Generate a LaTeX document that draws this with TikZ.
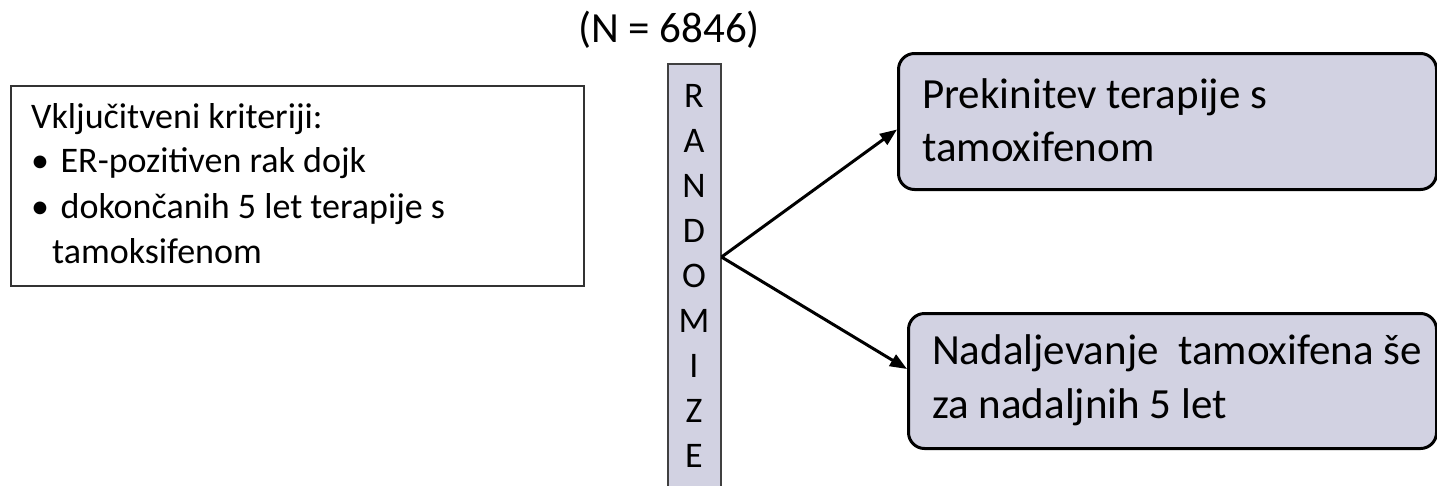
\documentclass[tikz,border=0pt]{standalone}
\usepackage{fontspec}
\setmainfont{Carlito}
\usetikzlibrary{arrows.meta}
\definecolor{boxfill}{RGB}{210,210,226}
\begin{document}
\begin{tikzpicture}[x=1pt,y=-1pt,
  critbox/.style={draw=black!80, line width=1.5pt, minimum width=573pt, minimum height=200pt, anchor=north west, inner sep=0pt},
  critline/.style={anchor=base west, inner sep=0pt, font=\fontsize{36}{42}\selectfont},
  randcol/.style={draw=black!75, fill=boxfill, line width=1.5pt, anchor=north west, minimum width=53pt, minimum height=440pt, inner sep=0pt},
  letter/.style={anchor=base, inner sep=0pt, font=\fontsize{36}{42}\selectfont},
  arm/.style={draw=black, fill=boxfill, line width=3pt, rounded corners=16pt, anchor=north west, inner sep=0pt},
  armline/.style={anchor=base west, inner sep=0pt, font=\fontsize{43}{50}\selectfont},
  splitarrow/.style={line width=3pt, -{Triangle[length=17pt,width=13pt]}}
]
\useasboundingbox (0,0) rectangle (1437,485);

% title
\node[anchor=base, inner sep=0pt, font=\fontsize{43}{50}\selectfont] (ntot) at (669,42) {(N = 6846)};

% inclusion criteria box
\node[critbox] (crit) at (10,85) {};
\node[critline] (c1) at (31,128) {Vključitveni kriteriji:};
\node[critline] (c2) at (31,172) {•\hspace{0.32em}ER-pozitiven rak dojk};
\node[critline] (c3) at (31,218) {•\hspace{0.32em}dokončanih 5 let terapije s};
\node[critline] (c4) at (52,263) {tamoksifenom};

% randomize column
\node[randcol] (rand) at (667,63) {};
\foreach \l [count=\i from 0] in {R,A,N,D,O,M,I,Z,E}
  \node[letter] (r\i) at (694,107+45*\i) {\l};

% arms
\node[arm, minimum width=538pt, minimum height=136pt] (arm1) at (897,52) {};
\node[armline] (a1) at (922,108) {Prekinitev terapije s};
\node[armline] (a2) at (922,161) {tamoxifenom};

\node[arm, minimum width=528pt, minimum height=135pt] (arm2) at (907,312) {};
\node[armline] (b1) at (932,364) {Nadaljevanje\ \ tamoxifena še};
\node[armline] (b2) at (932,418) {za nadaljnih 5 let};

% connectors
\coordinate (split) at (rand.east |- 0,257);
\draw[splitarrow] (split) -- ([yshift=-8pt]arm1.west);
\draw[splitarrow] (split) -- ([yshift=12pt]arm2.west);
\end{tikzpicture}
\end{document}
